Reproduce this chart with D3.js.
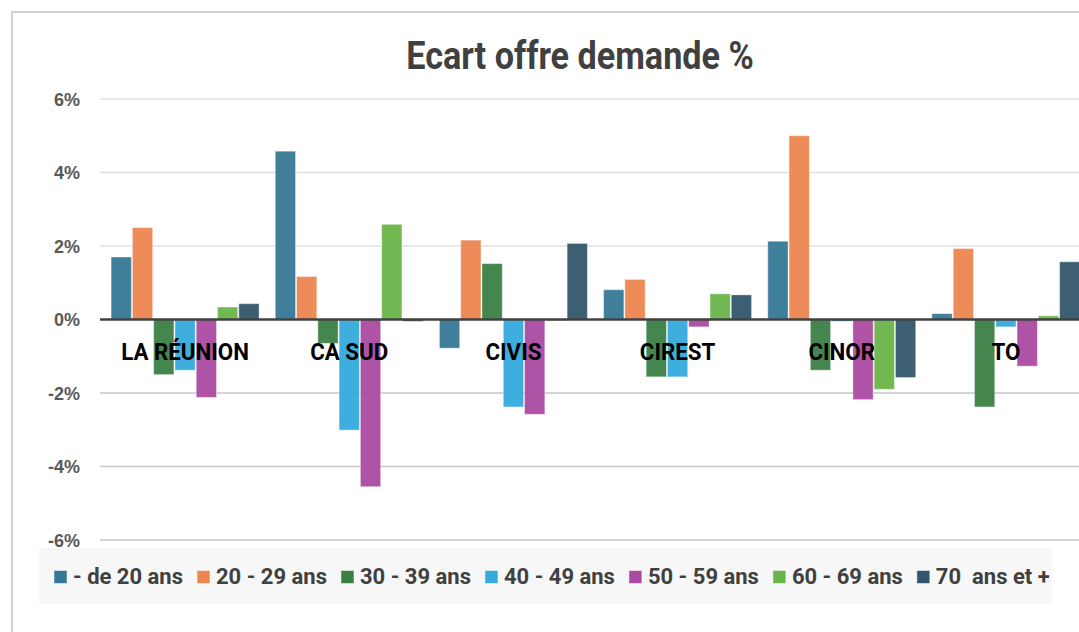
<!DOCTYPE html>
<html>
<head>
<meta charset="utf-8">
<script src="https://cdn.jsdelivr.net/npm/d3@7"></script>
<style>
  body { margin: 0; background: #fff; }
  svg { display: block; }
</style>
</head>
<body>
<svg id="chart" width="1079" height="632"></svg>
<script>
// categories (territoires) and age groups
const categories = ['LA RÉUNION', 'CA SUD', 'CIVIS', 'CIREST', 'CINOR', 'TO'];
const series = ['- de 20 ans', '20 - 29 ans', '30 - 39 ans', '40 - 49 ans', '50 - 59 ans', '60 - 69 ans', '70  ans et +'];
const colors = ['#367895', '#ec8550', '#3a7f43', '#33aadb', '#aa4aa0', '#6ab54b', '#33566a'];

// ecart offre / demande in %, one array per age group, in category order
const moins20 = [1.70, 4.58, -0.78, 0.81, 2.13, 0.16];
const a20_29 = [2.50, 1.17, 2.16, 1.09, 5.00, 1.93];
const a30_39 = [-1.50, -0.65, 1.52, -1.56, -1.38, -2.38];
const a40_49 = [-1.38, -3.01, -2.38, -1.56, -0.05, -0.20];
const a50_59 = [-2.12, -4.55, -2.58, -0.20, -2.18, -1.27];
const a60_69 = [0.34, 2.59, -0.03, 0.70, -1.90, 0.10];
const a70plus = [0.43, -0.05, 2.07, 0.67, -1.58, 1.57];
const values = [moins20, a20_29, a30_39, a40_49, a50_59, a60_69, a70plus];

const yTicks = [6, 4, 2, 0, -2, -4, -6];

const svg = d3.select('#chart');

// chart frame (cut on right and bottom like the source screenshot)
svg.append('rect')
  .attr('x', 12).attr('y', 12)
  .attr('width', 1200).attr('height', 800)
  .attr('fill', '#fff')
  .attr('stroke', '#c4c4c4')
  .attr('stroke-width', 1.5);

const plotLeft = 103, plotRight = 1088;
const x0 = d3.scaleBand().domain(categories).range([plotLeft, plotRight])
  .paddingInner(0.0925).paddingOuter(0.0925 / 2);
const x1 = d3.scaleBand().domain(series).range([0, x0.bandwidth()]);
const y = d3.scaleLinear().domain([-6, 6]).range([540, 99]);

// grid lines
svg.append('g')
  .selectAll('line')
  .data(yTicks.filter(t => t !== 0))
  .join('line')
  .attr('x1', 100).attr('x2', 1079)
  .attr('y1', d => y(d)).attr('y2', d => y(d))
  .attr('stroke', d => d > 0 ? '#e0e0e0' : '#c6c6c6')
  .attr('stroke-width', 1.5);

// y axis labels
const yAxis = d3.axisLeft(y).tickValues(yTicks).tickSize(0).tickPadding(0)
  .tickFormat(d => d + '%');
svg.append('g')
  .attr('transform', 'translate(80,0)')
  .call(yAxis)
  .call(g => g.select('.domain').remove())
  .call(g => g.selectAll('text')
    .attr('fill', '#595959')
    .attr('font-family', 'Liberation Sans, Arial, sans-serif')
    .attr('font-weight', 'bold')
    .attr('font-size', 18)
    .attr('dy', '0.36em'));

// bars
const groups = svg.append('g')
  .selectAll('g')
  .data(categories)
  .join('g')
  .attr('transform', d => `translate(${x0(d)},0)`);

groups.selectAll('rect')
  .data((c, ci) => series.map((s, si) => ({ s, si, v: values[si][ci] })))
  .join('rect')
  .attr('x', d => x1(d.s) + 0.5)
  .attr('width', x1.bandwidth() - 1)
  .attr('y', d => y(Math.max(0, d.v)))
  .attr('height', d => Math.abs(y(d.v) - y(0)))
  .attr('fill', d => colors[d.si])
  .attr('fill-opacity', 0.95)
  .attr('stroke', '#fff')
  .attr('stroke-opacity', 0.4)
  .attr('stroke-width', 1);

// zero axis line
svg.append('line')
  .attr('x1', 100).attr('x2', 1079)
  .attr('y1', y(0)).attr('y2', y(0))
  .attr('stroke', '#404040')
  .attr('stroke-width', 2.5);

// condensed text helper (source uses a narrow font)
function narrowText(sel, k) {
  sel.each(function () {
    const t = d3.select(this);
    const x = +t.attr('data-x'), yy = +t.attr('data-y');
    t.attr('transform', `translate(${x},${yy}) scale(${k},1)`);
  });
}

// category labels, drawn over the bars
svg.append('g')
  .selectAll('text')
  .data(categories)
  .join('text')
  .attr('data-x', d => x0(d) + x0.bandwidth() / 2)
  .attr('data-y', 360)
  .attr('text-anchor', 'middle')
  .attr('font-family', 'Roboto, Arial, sans-serif')
  .attr('font-weight', 'bold')
  .attr('font-size', 24)
  .attr('fill', '#000')
  .text(d => d)
  .call(narrowText, 0.93);

// title
svg.append('text')
  .attr('data-x', 580).attr('data-y', 69)
  .attr('text-anchor', 'middle')
  .attr('font-family', 'Roboto, Arial, sans-serif')
  .attr('font-weight', 'bold')
  .attr('font-size', 38)
  .attr('fill', '#404040')
  .text('Ecart offre demande %')
  .call(narrowText, 0.9);

// legend
svg.append('rect')
  .attr('x', 39).attr('y', 548)
  .attr('width', 1013).attr('height', 56)
  .attr('fill', '#f7f7f7');

const legend = svg.append('g');
let lx = 54;
series.forEach((s, i) => {
  legend.append('rect')
    .attr('x', lx).attr('y', 570.5)
    .attr('width', 13).attr('height', 13)
    .attr('fill', colors[i])
    .attr('stroke', '#fff').attr('stroke-opacity', 0.5);
  const t = legend.append('text')
    .attr('data-x', lx + 19).attr('data-y', 584)
    .attr('font-family', 'Roboto, Arial, sans-serif')
    .attr('font-weight', 'bold')
    .attr('font-size', 22)
    .attr('fill', '#404040')
    .style('white-space', 'pre')
    .text(s)
    .call(narrowText, 1);
  const w = t.node().getComputedTextLength();
  lx += 19 + w + 14;
});
</script>
</body>
</html>
